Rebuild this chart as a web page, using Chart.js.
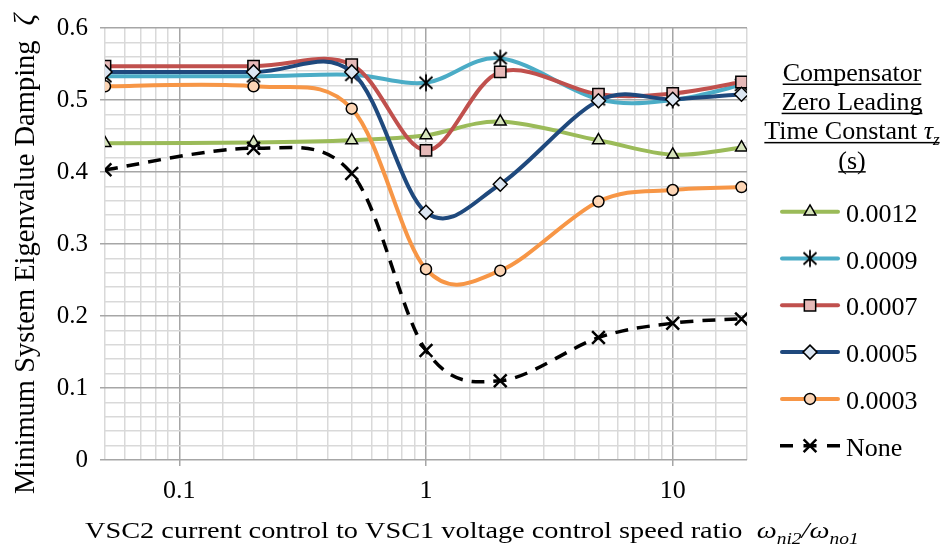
<!DOCTYPE html>
<html>
<head>
<meta charset="utf-8">
<script src="https://cdn.jsdelivr.net/npm/chart.js@4.4.1/dist/chart.umd.min.js"></script>
<style>
  body { margin: 0; background: #fff; }
  #wrap { width: 944px; height: 551px; position: relative; }
</style>
</head>
<body>
<div id="wrap"><canvas id="chart"></canvas></div>
<script>
// speed ratio values (x) and minimum damping for each compensator time constant
var ratios   = [0.05, 0.2, 0.5, 1, 2, 5, 10, 19];
var tau0012  = [0.440, 0.441, 0.444, 0.451, 0.470, 0.444, 0.424, 0.434];
var tau0009  = [0.533, 0.533, 0.535, 0.524, 0.558, 0.501, 0.500, 0.521];
var tau0007  = [0.547, 0.547, 0.549, 0.430, 0.539, 0.508, 0.509, 0.525];
var tau0005  = [0.539, 0.539, 0.539, 0.344, 0.383, 0.499, 0.501, 0.508];
var tau0003  = [0.519, 0.519, 0.488, 0.265, 0.263, 0.359, 0.375, 0.379];
var tauNone  = [0.403, 0.433, 0.398, 0.152, 0.110, 0.170, 0.190, 0.196];

var seriesNames = ['0.0012', '0.0009', '0.0007', '0.0005', '0.0003', 'None'];
var yTickLabels = ['0', '0.1', '0.2', '0.3', '0.4', '0.5', '0.6'];
var xTickLabels = ['0.1', '1', '10'];

var SERIF = '"Liberation Serif", "Times New Roman", serif';
Chart.defaults.font.family = SERIF;
Chart.defaults.color = '#000';

// six-armed asterisk marker
function makeStar() {
    var c = document.createElement('canvas');
    c.width = 20; c.height = 20;
    var g = c.getContext('2d');
    g.strokeStyle = '#000';
    g.lineWidth = 1.8;
    g.beginPath();
    g.moveTo(10, 1.5); g.lineTo(10, 18.5);
    g.moveTo(3.5, 4); g.lineTo(16.5, 16);
    g.moveTo(16.5, 4); g.lineTo(3.5, 16);
    g.stroke();
    return c;
}
var starImg = makeStar();

function pts(vals) {
    return ratios.map(function(r, i) { return {x: r, y: vals[i]}; });
}

function isDecade(v) {
    var e = Math.log10(v);
    return Math.abs(e - Math.round(e)) < 1e-6;
}
function isTenth(v) {
    return Math.abs(v * 10 - Math.round(v * 10)) < 1e-6;
}

var datasets = [
    {label: seriesNames[0], data: pts(tau0012), borderColor: '#9bbb59', pointStyle: 'triangle',
     pointRadius: 6.8, pointBackgroundColor: '#d7e4bd'},
    {label: seriesNames[1], data: pts(tau0009), borderColor: '#4bacc6', pointStyle: starImg,
     pointRadius: 8, pointBackgroundColor: '#000'},
    {label: seriesNames[2], data: pts(tau0007), borderColor: '#c0504d', pointStyle: 'rect',
     pointRadius: 8, pointBackgroundColor: '#e6b9b8'},
    {label: seriesNames[3], data: pts(tau0005), borderColor: '#1f497d', pointStyle: 'rectRot',
     pointRadius: 7, pointBackgroundColor: '#dce6f2'},
    {label: seriesNames[4], data: pts(tau0003), borderColor: '#f79646', pointStyle: 'circle',
     pointRadius: 5.5, pointBackgroundColor: '#fcd5b5'},
    {label: seriesNames[5], data: pts(tauNone), borderColor: '#000', pointStyle: 'crossRot',
     pointRadius: 9, pointBackgroundColor: '#000', borderDash: [13, 9], borderWidth: 3.5,
     pointBorderWidth: 2.5, borderCapStyle: 'butt'}
];
datasets.forEach(function(d, i) {
    d.order = 5 - i;          // later series on top
    d.tension = 0.4;
    if (d.borderWidth === undefined) d.borderWidth = 4;
    if (d.pointBorderWidth === undefined) d.pointBorderWidth = 1.5;
    if (!d.borderCapStyle) d.borderCapStyle = 'round';
    d.borderJoinStyle = 'round';
    d.pointBorderColor = '#000';
    d.fill = false;
});

// smoothed line like a spreadsheet: Catmull-Rom control points in pixel space
var smoothPlugin = {
    id: 'smoothCurves',
    beforeDatasetsDraw: function(chart) {
        chart.getSortedVisibleDatasetMetas().forEach(function(meta) {
            var p = meta.data;
            meta.dataset.updateControlPoints(chart.chartArea, 'x');
            for (var i = 0; i < p.length; i++) {
                var a = p[Math.max(i - 1, 0)], b = p[Math.min(i + 1, p.length - 1)];
                var dx = (b.x - a.x) / 6, dy = (b.y - a.y) / 6;
                p[i].cp1x = p[i].x - dx; p[i].cp1y = p[i].y - dy;
                p[i].cp2x = p[i].x + dx; p[i].cp2y = p[i].y + dy;
            }
            meta.dataset._path = undefined;
        });
    }
};

function drawRuns(ctx, runs, x, y) {
    runs.forEach(function(r) {
        ctx.font = r.font;
        ctx.fillText(r.text, x, y + (r.dy || 0));
        x += ctx.measureText(r.text).width + (r.gap || 0);
    });
    return x;
}
function runsWidth(ctx, runs) {
    var w = 0;
    runs.forEach(function(r) { ctx.font = r.font; w += ctx.measureText(r.text).width + (r.gap || 0); });
    return w;
}

var labelsPlugin = {
    id: 'labels',
    afterDraw: function(chart) {
        var ctx = chart.ctx;
        ctx.save();
        ctx.fillStyle = '#000';
        ctx.strokeStyle = '#000';
        ctx.textAlign = 'left';
        ctx.textBaseline = 'alphabetic';

        // y axis title
        ctx.save();
        ctx.translate(34, 494);
        ctx.rotate(-Math.PI / 2);
        drawRuns(ctx, [
            {text: 'Minimum System Eigenvalue Damping', font: '28.5px ' + SERIF, gap: 15},
            {text: 'ζ', font: 'italic 28.5px ' + SERIF}
        ], 0, 0);
        ctx.restore();

        // x axis title
        ctx.save();
        ctx.translate(85, 538);
        ctx.scale(1.18, 1);
        drawRuns(ctx, [
            {text: 'VSC2 current control to VSC1 voltage control speed ratio ', font: '24px ' + SERIF, gap: 6},
            {text: 'ω', font: 'italic 24px ' + SERIF},
            {text: 'ni2', font: 'italic 16.5px ' + SERIF, dy: 6},
            {text: '/', font: 'italic 24px ' + SERIF},
            {text: 'ω', font: 'italic 24px ' + SERIF},
            {text: 'no1', font: 'italic 16.5px ' + SERIF, dy: 6}
        ], 0, 0);
        ctx.restore();

        // legend title, underlined lines
        var cx = 852;
        var titleLines = [
            [{text: 'Compensator', font: '26px ' + SERIF}],
            [{text: 'Zero Leading', font: '26px ' + SERIF}],
            [{text: 'Time Constant ', font: '26px ' + SERIF}, {text: 'τ', font: 'italic 26px ' + SERIF},
             {text: 'z', font: 'italic 17px ' + SERIF, dy: 6}],
            [{text: '(s)', font: '26px ' + SERIF}]
        ];
        titleLines.forEach(function(runs, i) {
            var base = 81 + i * 29.2;
            var w = runsWidth(ctx, runs);
            var x0 = cx - w / 2;
            drawRuns(ctx, runs, x0, base);
            ctx.fillRect(x0, base + 2.5, w, 1.5);
        });

        // legend entries
        chart.data.datasets.forEach(function(d, i) {
            var base = 221.7 + i * 46.8;
            var ly = base - 10;
            ctx.save();
            ctx.strokeStyle = d.borderColor;
            ctx.lineWidth = d.borderWidth;
            ctx.lineCap = d.borderCapStyle;
            if (d.borderDash) ctx.setLineDash([13, 10.5]);
            ctx.beginPath();
            ctx.moveTo(i === 5 ? 780 : 782, ly);
            ctx.lineTo(i === 5 ? 840 : 838, ly);
            ctx.stroke();
            ctx.setLineDash([]);
            ctx.fillStyle = d.pointBackgroundColor;
            ctx.strokeStyle = d.pointBorderColor;
            ctx.lineWidth = d.pointBorderWidth;
            Chart.helpers.drawPoint(ctx, {pointStyle: d.pointStyle, radius: d.pointRadius,
                rotation: 0, borderWidth: d.pointBorderWidth}, 810, ly);
            ctx.restore();
            ctx.font = '26px ' + SERIF;
            ctx.fillText(d.label, 846, base);
        });
        ctx.restore();
    }
};

var MAJOR = '#a6a6a6', MINOR = '#d9d9d9';

new Chart(document.getElementById('chart'), {
    type: 'line',
    data: {datasets: datasets},
    options: {
        responsive: true,
        maintainAspectRatio: false,
        animation: false,
        layout: {padding: {top: 28, right: 197, left: 0, bottom: 0}},
        plugins: {legend: {display: false}, tooltip: {enabled: false}},
        scales: {
            x: {
                type: 'logarithmic',
                min: 0.05,
                max: 20,
                border: {display: false},
                afterFit: function(s) { s.height = 91; },
                grid: {
                    color: function(c) { return isDecade(c.tick.value) ? MAJOR : MINOR; },
                    tickColor: function(c) { return isDecade(c.tick.value) ? MAJOR : 'rgba(0,0,0,0)'; },
                    lineWidth: 1.5,
                    tickLength: 6
                },
                ticks: {
                    autoSkip: false,
                    maxRotation: 0,
                    padding: 10,
                    font: {size: 26},
                    callback: function(v) {
                        if (!isDecade(v)) return '';
                        var k = Math.round(Math.log10(v)) + 1;
                        return xTickLabels[k] || '';
                    }
                }
            },
            y: {
                min: 0,
                max: 0.6,
                border: {display: false},
                afterFit: function(s) { s.width = 105; },
                grid: {
                    color: function(c) { return isTenth(c.tick.value) ? MAJOR : MINOR; },
                    tickColor: function(c) { return isTenth(c.tick.value) ? MAJOR : 'rgba(0,0,0,0)'; },
                    lineWidth: 1.5,
                    tickLength: 5
                },
                ticks: {
                    stepSize: 0.02,
                    autoSkip: false,
                    padding: 12,
                    font: {size: 25},
                    callback: function(v) {
                        return isTenth(v) ? yTickLabels[Math.round(v * 10)] : '';
                    }
                }
            }
        }
    },
    plugins: [smoothPlugin, labelsPlugin]
});
</script>
</body>
</html>
